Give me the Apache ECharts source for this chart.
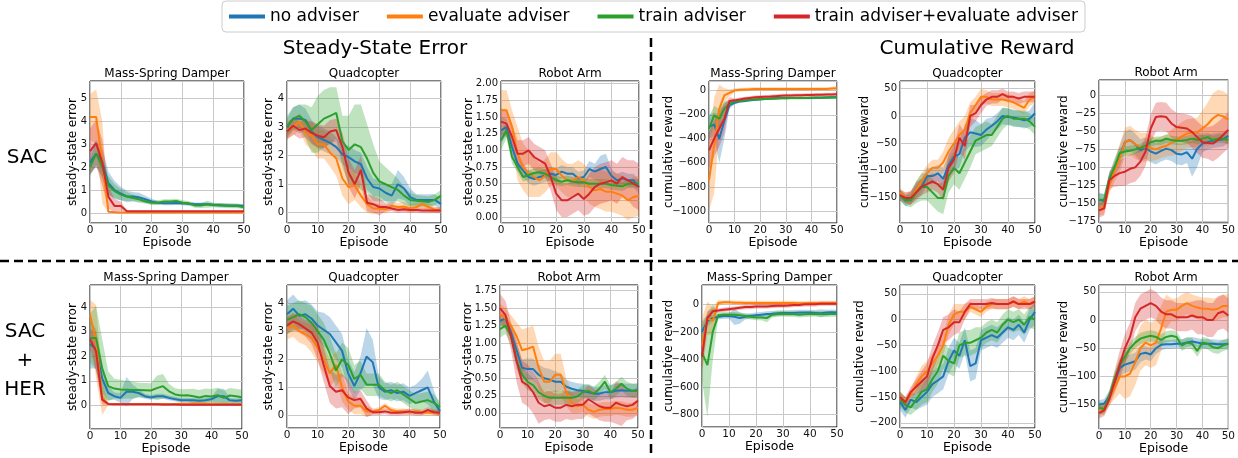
<!DOCTYPE html>
<html><head><meta charset="utf-8">
<script src="https://cdn.jsdelivr.net/npm/echarts@6/dist/echarts.min.js"></script>
<style>html,body{margin:0;padding:0;background:#fff}#c{width:1238px;height:458px}</style>
</head><body><div id="c"></div>
<script>
const EPISODES = [0,2,4,6,8,10,12,14,16,18,20,22,24,26,28,30,32,34,36,38,40,42,44,46,48,50];
const SERIES_NAMES = ['no adviser','evaluate adviser','train adviser','train adviser+evaluate adviser'];
const COLORS = ['#1f77b4','#ff7f0e','#2ca02c','#d62728'];
const BAND_COLORS = ['rgba(31,119,180,0.3)','rgba(255,127,14,0.3)','rgba(44,160,44,0.3)','rgba(214,39,40,0.3)'];

// ---- SAC, steady-state error, Mass-Spring Damper
const errSacMsd_none = [2.2,2.6,2.2,1.3,1.0,0.85,0.72,0.72,0.68,0.6,0.5,0.45,0.42,0.42,0.43,0.42,0.4,0.38,0.38,0.38,0.36,0.35,0.33,0.33,0.32,0.3];
const errSacMsd_none_sd = [0.5,0.6,0.6,0.5,0.4,0.3,0.25,0.2,0.2,0.15,0.12,0.08,0.08,0.08,0.08,0.08,0.08,0.08,0.08,0.08,0.08,0.08,0.08,0.08,0.08,0.08];
const errSacMsd_eval = [4.2,4.2,2.2,0.05,0.03,0.02,0.02,0.02,0.02,0.02,0.02,0.02,0.02,0.02,0.02,0.02,0.02,0.02,0.02,0.02,0.02,0.02,0.02,0.02,0.02,0.02];
const errSacMsd_eval_sd = [1.0,1.2,1.8,0.05,0.02,0.02,0.02,0.02,0.02,0.02,0.02,0.02,0.02,0.02,0.02,0.02,0.02,0.02,0.02,0.02,0.02,0.02,0.02,0.02,0.02,0.02];
const errSacMsd_train = [2.0,2.6,2.0,1.2,0.95,0.8,0.72,0.65,0.6,0.5,0.45,0.45,0.5,0.5,0.52,0.45,0.42,0.33,0.32,0.38,0.35,0.33,0.32,0.3,0.3,0.25];
const errSacMsd_train_sd = [0.4,0.5,0.5,0.4,0.3,0.25,0.2,0.15,0.15,0.1,0.1,0.1,0.1,0.1,0.1,0.1,0.1,0.1,0.1,0.15,0.1,0.1,0.1,0.1,0.1,0.1];
const errSacMsd_both = [2.7,3.05,2.2,0.7,0.3,0.3,0.07,0.07,0.07,0.07,0.07,0.07,0.07,0.07,0.07,0.07,0.07,0.07,0.07,0.07,0.07,0.07,0.07,0.07,0.07,0.07];
const errSacMsd_both_sd = [1.0,1.0,1.0,0.5,0.3,0.2,0.04,0.03,0.03,0.03,0.03,0.03,0.03,0.03,0.03,0.03,0.03,0.03,0.03,0.03,0.03,0.03,0.03,0.03,0.03,0.03];

// ---- SAC, steady-state error, Quadcopter
const errSacQuad_none = [3.0,3.3,3.3,3.25,2.85,2.65,2.55,2.45,2.3,2.05,1.95,1.8,1.7,1.2,0.9,0.85,0.7,0.6,1.0,0.85,0.55,0.45,0.45,0.45,0.45,0.3];
const errSacQuad_none_sd = [0.3,0.4,0.5,0.4,0.4,0.4,0.4,0.4,0.35,0.35,0.4,0.4,0.4,0.4,0.3,0.3,0.3,0.4,0.5,0.4,0.3,0.2,0.2,0.2,0.2,0.2];
const errSacQuad_eval = [2.9,3.0,3.2,2.8,2.7,2.4,2.4,2.1,1.9,1.2,0.9,0.95,0.6,0.3,0.15,0.15,0.12,0.25,0.2,0.22,0.15,0.2,0.3,0.2,0.1,0.1];
const errSacQuad_eval_sd = [0.3,0.3,0.3,0.4,0.5,0.5,0.5,0.5,0.6,0.6,0.6,0.5,0.4,0.3,0.2,0.15,0.15,0.15,0.15,0.15,0.15,0.15,0.15,0.15,0.1,0.1];
const errSacQuad_train = [3.0,3.3,3.4,3.2,2.9,3.1,3.3,3.4,3.5,2.5,2.2,2.4,2.3,1.9,1.4,1.1,1.0,0.9,0.8,0.6,0.45,0.42,0.4,0.38,0.45,0.6];
const errSacQuad_train_sd = [0.4,0.4,0.4,0.6,0.8,1.0,1.0,1.0,0.9,0.9,1.2,1.4,1.5,1.2,1.0,0.7,0.6,0.5,0.4,0.3,0.25,0.2,0.2,0.2,0.2,0.2];
const errSacQuad_both = [2.85,3.05,2.9,2.95,2.8,2.7,2.65,2.85,2.9,2.3,1.4,1.0,1.5,0.35,0.3,0.2,0.2,0.15,0.1,0.12,0.1,0.1,0.08,0.08,0.08,0.08];
const errSacQuad_both_sd = [0.3,0.3,0.3,0.3,0.4,0.4,0.4,0.4,0.4,0.5,0.5,0.5,0.5,0.3,0.3,0.3,0.15,0.1,0.1,0.1,0.1,0.1,0.1,0.1,0.1,0.1];

// ---- SAC, steady-state error, Robot Arm
const errSacArm_none = [1.3,1.35,1.05,0.8,0.7,0.6,0.57,0.6,0.62,0.65,0.63,0.68,0.65,0.65,0.58,0.6,0.72,0.68,0.72,0.75,0.62,0.55,0.58,0.55,0.55,0.45];
const errSacArm_none_sd = [0.2,0.12,0.1,0.1,0.1,0.1,0.1,0.1,0.1,0.1,0.1,0.1,0.1,0.1,0.1,0.1,0.12,0.12,0.2,0.2,0.1,0.1,0.1,0.1,0.1,0.1];
const errSacArm_eval = [1.6,1.6,1.35,0.95,0.75,0.65,0.6,0.55,0.62,0.72,0.72,0.62,0.55,0.55,0.6,0.55,0.45,0.4,0.42,0.38,0.38,0.35,0.32,0.25,0.3,0.32];
const errSacArm_eval_sd = [0.3,0.3,0.25,0.4,0.35,0.35,0.3,0.25,0.25,0.25,0.25,0.25,0.25,0.25,0.25,0.25,0.25,0.25,0.3,0.3,0.3,0.3,0.3,0.3,0.3,0.3];
const errSacArm_train = [1.15,1.3,0.9,0.75,0.6,0.63,0.66,0.67,0.65,0.6,0.55,0.53,0.55,0.53,0.52,0.52,0.5,0.5,0.5,0.5,0.48,0.47,0.46,0.5,0.5,0.5];
const errSacArm_train_sd = [0.15,0.12,0.1,0.08,0.07,0.07,0.07,0.07,0.07,0.07,0.07,0.07,0.07,0.07,0.07,0.07,0.07,0.07,0.07,0.07,0.07,0.07,0.07,0.07,0.07,0.07];
const errSacArm_both = [1.43,1.4,1.2,0.95,0.95,1.0,0.9,0.85,0.8,0.6,0.35,0.25,0.25,0.3,0.35,0.27,0.35,0.45,0.5,0.52,0.55,0.5,0.6,0.55,0.5,0.45];
const errSacArm_both_sd = [0.2,0.2,0.2,0.2,0.2,0.2,0.2,0.2,0.2,0.2,0.25,0.25,0.25,0.25,0.25,0.25,0.3,0.3,0.3,0.3,0.3,0.3,0.3,0.3,0.35,0.35];

// ---- SAC, cumulative reward, Mass-Spring Damper
const rewSacMsd_none = [-300,-280,-400,-250,-120,-100,-90,-85,-80,-75,-70,-68,-65,-62,-60,-60,-60,-60,-60,-60,-60,-58,-58,-56,-55,-55];
const rewSacMsd_none_sd = [100,100,200,150,30,15,10,10,10,10,10,10,10,10,10,10,10,10,10,10,10,10,10,10,10,10];
const rewSacMsd_eval = [-745,-454,-150,-39,-17,3,8,10,12,15,15,15,15,15,15,15,15,15,15,15,15,15,15,15,18,20];
const rewSacMsd_eval_sd = [250,400,200,60,30,15,15,15,15,15,15,15,15,15,15,15,15,15,15,15,15,15,15,15,15,15];
const rewSacMsd_train = [-316,-205,-233,-150,-108,-89,-85,-80,-75,-72,-70,-68,-66,-64,-62,-62,-60,-60,-60,-60,-58,-58,-58,-57,-56,-55];
const rewSacMsd_train_sd = [100,80,80,60,30,15,10,10,10,10,10,10,10,10,10,10,10,10,10,10,10,10,10,10,10,10];
const rewSacMsd_both = [-496,-399,-316,-233,-85,-80,-72,-65,-60,-55,-52,-50,-48,-45,-42,-40,-40,-38,-37,-36,-35,-34,-33,-32,-31,-30];
const rewSacMsd_both_sd = [150,150,150,120,30,15,15,15,15,15,15,15,15,15,15,15,15,15,15,15,15,15,15,15,15,15];

// ---- SAC, cumulative reward, Quadcopter
const rewSacQuad_none = [-145,-155,-150,-135,-130,-110,-110,-105,-115,-90,-75,-70,-40,-30,-32,-35,-25,-18,-10,0,-2,-3,-5,-8,-5,5];
const rewSacQuad_none_sd = [10,10,12,15,15,15,15,15,20,20,25,25,25,25,25,20,20,15,15,15,15,15,15,15,15,20];
const rewSacQuad_eval = [-140,-150,-150,-135,-120,-105,-95,-95,-85,-65,-50,-35,-25,5,20,35,35,30,30,30,28,25,20,15,30,35];
const rewSacQuad_eval_sd = [8,10,12,15,15,15,15,15,20,25,25,25,25,20,15,15,12,12,12,12,12,12,12,12,12,12];
const rewSacQuad_train = [-145,-155,-155,-140,-130,-130,-140,-150,-150,-110,-95,-105,-85,-65,-45,-40,-35,-35,-20,-5,0,-5,-5,-5,-10,-20];
const rewSacQuad_train_sd = [10,10,12,20,25,25,25,25,30,30,30,30,30,30,25,25,25,20,20,20,15,15,15,15,15,15];
const rewSacQuad_both = [-145,-150,-150,-140,-130,-125,-120,-125,-135,-95,-80,-40,-55,0,5,20,30,35,35,40,35,35,32,35,35,35];
const rewSacQuad_both_sd = [10,10,12,15,15,15,15,15,20,25,25,25,25,20,15,15,12,12,12,10,10,10,10,10,10,10];

// ---- SAC, cumulative reward, Robot Arm
const rewSacArm_none = [-145,-147,-118,-100,-85,-65,-62,-68,-76,-73,-78,-81,-77,-74,-76,-81,-82,-79,-88,-74,-67,-65,-63,-62,-61,-56];
const rewSacArm_none_sd = [10,10,10,12,15,15,15,15,15,15,15,15,15,15,15,15,15,15,25,25,12,10,10,10,10,10];
const rewSacArm_eval = [-157,-155,-125,-105,-88,-65,-62,-68,-72,-72,-73,-75,-72,-70,-66,-62,-57,-53,-52,-51,-46,-40,-32,-27,-29,-34];
const rewSacArm_eval_sd = [10,10,12,15,20,20,20,20,20,20,18,15,15,15,18,20,20,20,20,20,25,30,35,35,35,35];
const rewSacArm_train = [-145,-145,-115,-100,-80,-78,-77,-75,-73,-70,-65,-63,-63,-60,-62,-63,-63,-62,-60,-62,-60,-58,-62,-60,-60,-62];
const rewSacArm_train_sd = [8,8,8,8,8,7,7,6,6,6,6,6,6,6,6,6,6,6,6,6,6,6,6,6,6,6];
const rewSacArm_both = [-160,-157,-118,-112,-108,-106,-102,-100,-92,-78,-46,-30,-29,-30,-39,-44,-45,-46,-51,-58,-65,-66,-67,-62,-55,-48];
const rewSacArm_both_sd = [10,10,12,15,18,20,20,20,20,20,20,20,20,20,20,20,20,20,22,22,22,22,25,25,25,25];

// ---- SAC+HER, steady-state error, Mass-Spring Damper
const errHerMsd_none = [2.5,2.3,1.1,0.5,0.37,0.3,0.55,0.55,0.5,0.37,0.32,0.37,0.37,0.3,0.25,0.2,0.2,0.2,0.18,0.2,0.25,0.37,0.37,0.2,0.18,0.2];
const errHerMsd_none_sd = [1.0,0.8,0.6,0.3,0.15,0.2,0.6,0.3,0.15,0.1,0.1,0.1,0.1,0.1,0.1,0.1,0.1,0.1,0.1,0.1,0.1,0.3,0.3,0.1,0.1,0.1];
const errHerMsd_eval = [3.7,2.6,0.3,0.05,0.04,0.04,0.04,0.04,0.04,0.04,0.04,0.04,0.04,0.04,0.05,0.06,0.06,0.07,0.07,0.06,0.06,0.05,0.05,0.05,0.05,0.05];
const errHerMsd_eval_sd = [0.6,1.5,0.7,0.05,0.03,0.03,0.03,0.03,0.03,0.03,0.03,0.03,0.03,0.03,0.03,0.03,0.03,0.03,0.03,0.03,0.03,0.03,0.03,0.03,0.03,0.03];
const errHerMsd_train = [2.75,2.75,1.5,0.78,0.68,0.64,0.63,0.62,0.62,0.61,0.6,0.7,0.78,0.57,0.44,0.4,0.41,0.37,0.32,0.38,0.36,0.41,0.3,0.4,0.37,0.33];
const errHerMsd_train_sd = [1.0,1.3,1.2,0.6,0.4,0.4,0.35,0.35,0.3,0.3,0.3,0.5,0.5,0.3,0.25,0.25,0.25,0.3,0.3,0.3,0.3,0.3,0.3,0.3,0.3,0.3];
const errHerMsd_both = [2.7,2.2,0.23,0.05,0.04,0.04,0.04,0.04,0.04,0.04,0.04,0.04,0.03,0.03,0.03,0.02,0.02,0.02,0.02,0.02,0.02,0.02,0.02,0.02,0.02,0.02];
const errHerMsd_both_sd = [0.4,0.8,0.2,0.03,0.03,0.03,0.03,0.03,0.03,0.03,0.03,0.03,0.03,0.03,0.03,0.03,0.03,0.03,0.03,0.03,0.03,0.03,0.03,0.03,0.03,0.03];

// ---- SAC+HER, steady-state error, Quadcopter
const errHerQuad_none = [3.6,3.8,3.55,3.6,3.45,3.2,3.05,2.9,2.6,2.3,1.5,1.05,1.5,2.1,1.9,1.0,0.85,0.9,0.8,0.85,0.7,0.8,0.9,1.0,0.5,0.15];
const errHerQuad_none_sd = [0.5,0.5,0.5,0.5,0.5,0.5,0.6,0.6,0.6,0.6,0.5,0.5,0.6,1.0,0.8,0.4,0.3,0.3,0.3,0.3,0.3,0.3,0.4,0.6,0.4,0.2];
const errHerQuad_eval = [3.1,3.2,3.0,2.9,2.75,2.4,2.0,1.5,1.8,1.0,0.5,0.35,0.35,0.15,0.15,0.2,0.35,0.2,0.15,0.15,0.12,0.15,0.12,0.1,0.1,0.08];
const errHerQuad_eval_sd = [0.4,0.4,0.4,0.4,0.5,0.5,0.5,0.5,0.5,0.5,0.3,0.3,0.3,0.2,0.1,0.1,0.1,0.1,0.1,0.1,0.1,0.1,0.1,0.1,0.1,0.1];
const errHerQuad_train = [3.4,3.5,3.6,3.5,3.3,3.0,2.7,2.2,1.6,2.0,1.8,1.3,1.45,1.1,1.1,1.1,0.9,0.8,0.9,0.75,0.6,0.45,0.5,0.55,0.45,0.3];
const errHerQuad_train_sd = [0.5,0.5,0.5,0.5,0.6,0.6,0.6,0.6,0.6,0.6,0.6,0.5,0.5,0.4,0.4,0.4,0.3,0.3,0.3,0.3,0.3,0.3,0.3,0.3,0.3,0.2];
const errHerQuad_both = [3.2,3.35,3.25,3.1,2.95,2.6,1.8,1.05,0.85,0.9,0.65,0.55,0.6,0.25,0.12,0.12,0.15,0.1,0.1,0.12,0.15,0.1,0.1,0.2,0.12,0.1];
const errHerQuad_both_sd = [0.3,0.3,0.3,0.3,0.4,0.6,0.6,0.6,0.6,0.6,0.6,0.3,0.3,0.3,0.1,0.1,0.1,0.1,0.1,0.1,0.1,0.1,0.1,0.1,0.1,0.1];

// ---- SAC+HER, steady-state error, Robot Arm
const errHerArm_none = [1.32,1.35,1.15,0.9,0.65,0.63,0.63,0.55,0.5,0.48,0.45,0.45,0.38,0.35,0.33,0.32,0.3,0.28,0.28,0.3,0.3,0.32,0.33,0.32,0.32,0.33];
const errHerArm_none_sd = [0.08,0.08,0.1,0.1,0.12,0.15,0.15,0.15,0.15,0.15,0.15,0.12,0.1,0.1,0.1,0.1,0.1,0.1,0.1,0.1,0.1,0.1,0.1,0.1,0.1,0.1];
const errHerArm_eval = [1.42,1.35,1.25,1.1,0.9,0.92,0.95,0.65,0.45,0.45,0.55,0.55,0.3,0.15,0.1,0.12,0.05,0.02,0.05,0.06,0.06,0.08,0.07,0.05,0.05,0.08];
const errHerArm_eval_sd = [0.15,0.15,0.15,0.2,0.3,0.3,0.3,0.3,0.3,0.3,0.3,0.3,0.2,0.15,0.1,0.1,0.1,0.1,0.1,0.1,0.1,0.1,0.1,0.1,0.1,0.1];
const errHerArm_train = [1.2,1.25,1.1,0.75,0.55,0.45,0.4,0.3,0.25,0.22,0.22,0.22,0.22,0.22,0.24,0.3,0.32,0.28,0.35,0.45,0.3,0.35,0.42,0.35,0.32,0.32];
const errHerArm_train_sd = [0.12,0.12,0.12,0.12,0.12,0.12,0.1,0.1,0.1,0.1,0.1,0.1,0.1,0.1,0.1,0.1,0.1,0.1,0.1,0.1,0.1,0.1,0.1,0.1,0.1,0.1];
const errHerArm_both = [1.5,1.4,1.1,0.75,0.45,0.4,0.3,0.15,0.1,0.12,0.08,0.08,0.12,0.1,0.12,0.12,0.2,0.15,0.1,0.08,0.08,0.15,0.12,0.1,0.12,0.18];
const errHerArm_both_sd = [0.2,0.2,0.2,0.3,0.3,0.3,0.3,0.3,0.2,0.2,0.2,0.2,0.2,0.2,0.2,0.2,0.2,0.2,0.2,0.2,0.2,0.3,0.3,0.2,0.2,0.2];

// ---- SAC+HER, cumulative reward, Mass-Spring Damper
const rewHerMsd_none = [-200,-120,-100,-90,-85,-85,-90,-100,-90,-85,-80,-75,-70,-68,-65,-63,-63,-62,-60,-60,-60,-62,-65,-60,-58,-60];
const rewHerMsd_none_sd = [80,40,20,20,20,20,60,40,20,20,20,20,20,20,20,20,20,20,20,20,20,20,30,20,20,20];
const rewHerMsd_eval = [-300,-100,-120,10,15,15,12,12,10,10,10,10,10,10,10,10,10,10,8,8,10,10,10,10,10,10];
const rewHerMsd_eval_sd = [200,120,100,20,15,15,15,15,15,15,15,15,15,15,15,15,15,15,15,15,15,15,15,15,15,15];
const rewHerMsd_train = [-350,-440,-200,-80,-75,-75,-75,-80,-85,-90,-95,-95,-100,-75,-70,-68,-70,-70,-75,-72,-70,-68,-70,-72,-70,-70];
const rewHerMsd_train_sd = [200,380,200,20,20,20,20,20,20,20,20,20,30,20,20,20,20,20,20,20,20,20,20,20,20,20];
const rewHerMsd_both = [-380,-100,-50,-45,-40,-35,-30,-25,-20,-20,-15,-15,-15,-12,-10,-10,-8,-5,-5,0,0,0,5,5,5,5];
const rewHerMsd_both_sd = [100,50,20,15,15,15,15,15,15,15,15,15,15,15,15,15,15,15,15,15,15,15,15,15,15,15];

// ---- SAC+HER, cumulative reward, Quadcopter
const rewHerQuad_none = [-160,-175,-155,-160,-150,-140,-125,-118,-110,-80,-60,-70,-40,-90,-85,-40,-35,-30,-35,-25,-15,-20,-10,-25,0,15];
const rewHerQuad_none_sd = [15,15,15,15,20,25,25,25,25,25,25,25,25,30,30,20,20,20,20,20,20,20,20,20,20,25];
const rewHerQuad_eval = [-150,-160,-145,-125,-110,-100,-85,-70,-50,-10,10,15,15,25,20,15,25,30,30,30,30,35,30,35,30,35];
const rewHerQuad_eval_sd = [10,10,10,15,20,20,20,20,20,20,20,15,15,10,10,10,10,10,10,10,10,10,10,10,10,10];
const rewHerQuad_train = [-155,-165,-170,-155,-140,-135,-115,-100,-70,-80,-85,-50,-45,-45,-40,-35,-25,-20,-25,-10,0,-5,0,-10,5,0];
const rewHerQuad_train_sd = [15,15,15,20,25,25,25,25,25,25,25,25,25,25,25,20,20,20,20,20,20,20,20,20,20,20];
const rewHerQuad_both = [-150,-160,-140,-130,-120,-110,-75,-50,-20,-15,-5,-5,15,30,30,30,30,32,30,30,30,35,30,30,30,35];
const rewHerQuad_both_sd = [10,10,10,15,20,25,25,25,25,25,25,20,15,10,10,10,10,10,10,10,10,10,10,10,10,10];

// ---- SAC+HER, cumulative reward, Robot Arm
const rewHerArm_none = [-150,-148,-135,-110,-85,-79,-76,-73,-60,-58,-61,-50,-44,-43,-43,-42,-42,-40,-38,-40,-42,-42,-42,-43,-43,-42];
const rewHerArm_none_sd = [8,8,10,12,15,15,15,15,15,12,12,10,10,8,8,8,8,8,8,8,8,8,8,8,8,8];
const rewHerArm_eval = [-162,-155,-140,-120,-100,-100,-95,-75,-50,-40,-45,-40,-15,15,18,18,25,30,25,22,20,20,18,20,25,25];
const rewHerArm_eval_sd = [10,10,12,20,30,40,40,40,40,40,40,40,40,30,20,20,20,20,20,20,20,20,20,20,20,20];
const rewHerArm_train = [-155,-158,-135,-105,-80,-65,-50,-40,-33,-30,-28,-30,-35,-30,-28,-30,-45,-40,-42,-55,-40,-42,-48,-50,-45,-42];
const rewHerArm_train_sd = [10,10,10,12,12,12,10,10,10,10,10,10,10,10,10,10,10,10,10,10,10,10,10,10,10,10];
const rewHerArm_both = [-165,-160,-140,-110,-80,-50,-30,5,20,25,30,25,15,10,10,5,5,5,8,5,5,0,0,12,15,8];
const rewHerArm_both_sd = [10,10,12,20,25,25,25,25,25,25,25,25,25,25,25,25,25,25,25,30,30,30,30,30,30,30];

// ---- layout of the 12 panels (positions / styles only)
const TITLES = ['Mass-Spring Damper','Quadcopter','Robot Arm'];
const PANELS = [
  {t:0, y:'steady-state error', g:[90,81,154,142], min:-0.44, max:5.77, step:1, dec:0, gap:11, d:[errSacMsd_none,errSacMsd_none_sd,errSacMsd_eval,errSacMsd_eval_sd,errSacMsd_train,errSacMsd_train_sd,errSacMsd_both,errSacMsd_both_sd]},
  {t:1, y:'steady-state error', g:[287,81,154,142], min:-0.36, max:4.62, step:1, dec:0, gap:12.5, d:[errSacQuad_none,errSacQuad_none_sd,errSacQuad_eval,errSacQuad_eval_sd,errSacQuad_train,errSacQuad_train_sd,errSacQuad_both,errSacQuad_both_sd]},
  {t:2, y:'steady-state error', g:[501,81,138,142], min:-0.09, max:2.04, step:0.25, dec:2, gap:26.5, d:[errSacArm_none,errSacArm_none_sd,errSacArm_eval,errSacArm_eval_sd,errSacArm_train,errSacArm_train_sd,errSacArm_both,errSacArm_both_sd]},
  {t:0, y:'cumulative reward', g:[709,81,128,142], min:-1100, max:81, step:200, dec:0, gap:34.5, d:[rewSacMsd_none,rewSacMsd_none_sd,rewSacMsd_eval,rewSacMsd_eval_sd,rewSacMsd_train,rewSacMsd_train_sd,rewSacMsd_both,rewSacMsd_both_sd]},
  {t:1, y:'cumulative reward', g:[900,81,135,142], min:-196, max:64, step:50, dec:0, gap:29, d:[rewSacQuad_none,rewSacQuad_none_sd,rewSacQuad_eval,rewSacQuad_eval_sd,rewSacQuad_train,rewSacQuad_train_sd,rewSacQuad_both,rewSacQuad_both_sd]},
  {t:2, y:'cumulative reward', g:[1099,80,134,143], min:-177.4, max:21.5, step:25, dec:0, gap:29.5, d:[rewSacArm_none,rewSacArm_none_sd,rewSacArm_eval,rewSacArm_eval_sd,rewSacArm_train,rewSacArm_train_sd,rewSacArm_both,rewSacArm_both_sd]},
  {t:0, y:'steady-state error', g:[90,285,152,144], min:-0.97, max:4.91, step:1, dec:0, gap:11, d:[errHerMsd_none,errHerMsd_none_sd,errHerMsd_eval,errHerMsd_eval_sd,errHerMsd_train,errHerMsd_train_sd,errHerMsd_both,errHerMsd_both_sd]},
  {t:1, y:'steady-state error', g:[287,285,153,143], min:-0.44, max:4.64, step:1, dec:0, gap:12.5, d:[errHerQuad_none,errHerQuad_none_sd,errHerQuad_eval,errHerQuad_eval_sd,errHerQuad_train,errHerQuad_train_sd,errHerQuad_both,errHerQuad_both_sd]},
  {t:2, y:'steady-state error', g:[500,285,138,143], min:-0.21, max:1.83, step:0.25, dec:2, gap:26, d:[errHerArm_none,errHerArm_none_sd,errHerArm_eval,errHerArm_eval_sd,errHerArm_train,errHerArm_train_sd,errHerArm_both,errHerArm_both_sd]},
  {t:0, y:'cumulative reward', g:[702,285,135,142], min:-889, max:140, step:200, dec:0, gap:27.5, d:[rewHerMsd_none,rewHerMsd_none_sd,rewHerMsd_eval,rewHerMsd_eval_sd,rewHerMsd_train,rewHerMsd_train_sd,rewHerMsd_both,rewHerMsd_both_sd]},
  {t:1, y:'cumulative reward', g:[900,285,135,143], min:-210, max:67, step:50, dec:0, gap:34, d:[rewHerQuad_none,rewHerQuad_none_sd,rewHerQuad_eval,rewHerQuad_eval_sd,rewHerQuad_train,rewHerQuad_train_sd,rewHerQuad_both,rewHerQuad_both_sd]},
  {t:2, y:'cumulative reward', g:[1099,285,134,144], min:-193, max:62, step:50, dec:0, gap:29, d:[rewHerArm_none,rewHerArm_none_sd,rewHerArm_eval,rewHerArm_eval_sd,rewHerArm_train,rewHerArm_train_sd,rewHerArm_both,rewHerArm_both_sd]}
];

const FONT = 'DejaVu Sans';
const grids = [], xAxes = [], yAxes = [], series = [], graphics = [];

function bandSeries(gi, mean, sd, color) {
  const rows = EPISODES.map((x, i) => [x, mean[i] - sd[i], mean[i] + sd[i]]);
  return {
    type: 'custom', xAxisIndex: gi, yAxisIndex: gi, data: rows, silent: true, clip: true, z: 1,
    encode: {x: 0, y: [1, 2]},
    renderItem: function (params, api) {
      if (params.dataIndex !== 0) return null;
      const pts = [];
      for (let i = 0; i < rows.length; i++) pts.push(api.coord([rows[i][0], rows[i][2]]));
      for (let i = rows.length - 1; i >= 0; i--) pts.push(api.coord([rows[i][0], rows[i][1]]));
      return {type: 'polygon', shape: {points: pts}, style: {fill: color, stroke: null}};
    }
  };
}

PANELS.forEach((p, i) => {
  const [left, top, w, h] = p.g;
  grids.push({left: left, top: top, width: w, height: h, show: true, borderColor: '#000', borderWidth: 1, backgroundColor: 'transparent'});
  xAxes.push({
    type: 'value', gridIndex: i, min: 0, max: 50, interval: 10,
    name: 'Episode', nameLocation: 'middle', nameGap: 13, nameMoveOverlap: false,
    nameTextStyle: {fontFamily: FONT, fontSize: 12.5, color: '#000'},
    axisLine: {show: false}, axisTick: {show: false},
    axisLabel: {margin: 1.5, fontFamily: FONT, fontSize: 10.5, color: '#111'},
    splitLine: {show: true, lineStyle: {color: '#c8c8c8', width: 1}}
  });
  const step = p.step, dec = p.dec;
  yAxes.push({
    type: 'value', gridIndex: i, min: p.min, max: p.max, minInterval: step, maxInterval: step,
    splitNumber: Math.round((p.max - p.min) / step),
    name: p.y, nameLocation: 'middle', nameGap: p.gap, nameMoveOverlap: false,
    nameTextStyle: {fontFamily: FONT, fontSize: 12, color: '#000'},
    axisLine: {show: false}, axisTick: {show: false},
    axisLabel: {
      margin: 3, fontFamily: FONT, fontSize: 10, color: '#111',
      formatter: function (v) {
        const k = Math.round(v / step);
        if (Math.abs(v - k * step) > step * 1e-6) return '';
        const val = k * step;
        let s = dec ? val.toFixed(dec) : String(Math.round(val));
        return s.replace('-', '\u2212');
      }
    },
    splitLine: {show: true, lineStyle: {color: '#c8c8c8', width: 1}}
  });
  for (let k = 0; k < 4; k++) series.push(bandSeries(i, p.d[2 * k], p.d[2 * k + 1], BAND_COLORS[k]));
  for (let k = 0; k < 4; k++) {
    series.push({
      type: 'line', name: SERIES_NAMES[k], xAxisIndex: i, yAxisIndex: i, z: 3,
      data: EPISODES.map((x, j) => [x, p.d[2 * k][j]]),
      showSymbol: false, symbol: 'none', color: COLORS[k],
      lineStyle: {color: COLORS[k], width: 2}, silent: true, animation: false
    });
  }
  graphics.push({type: 'text', x: left + w / 2, y: top - 7, silent: true,
    style: {text: TITLES[p.t], fill: '#000', font: '12px "DejaVu Sans"', align: 'center', verticalAlign: 'middle', textAlign: 'center', textVerticalAlign: 'middle'}});
});

function bigText(txt, x, y, size) {
  return {type: 'text', x: x, y: y, silent: true,
    style: {text: txt, fill: '#000', font: size + 'px "DejaVu Sans"', align: 'center', verticalAlign: 'middle', textAlign: 'center', textVerticalAlign: 'middle'}};
}
graphics.push(bigText('Steady-State Error', 375, 49, 20));
graphics.push(bigText('Cumulative Reward', 977, 49, 20));
graphics.push(bigText('SAC', 27, 158, 20));
graphics.push(bigText('SAC', 25, 332, 20));
graphics.push(bigText('+', 25, 361, 20));
graphics.push(bigText('HER', 25, 390, 20));
graphics.push({type: 'line', silent: true, shape: {x1: 0, y1: 261, x2: 1238, y2: 261}, style: {stroke: '#000', lineWidth: 2.5, lineDash: [9, 5]}});
graphics.push({type: 'line', silent: true, shape: {x1: 651, y1: 38, x2: 651, y2: 458}, style: {stroke: '#000', lineWidth: 2.5, lineDash: [9, 5]}});

const chart = echarts.init(document.getElementById('c'), null, {renderer: 'canvas'});
chart.setOption({
  animation: false,
  backgroundColor: '#fff',
  legend: {
    data: SERIES_NAMES, left: 222, top: 1, icon: 'rect', itemWidth: 36, itemHeight: 4, itemGap: 28,
    textStyle: {fontFamily: FONT, fontSize: 17, color: '#000'},
    borderColor: '#cccccc', borderWidth: 1, borderRadius: 4, padding: [7, 7]
  },
  grid: grids, xAxis: xAxes, yAxis: yAxes, series: series, graphic: graphics
});
</script></body></html>
